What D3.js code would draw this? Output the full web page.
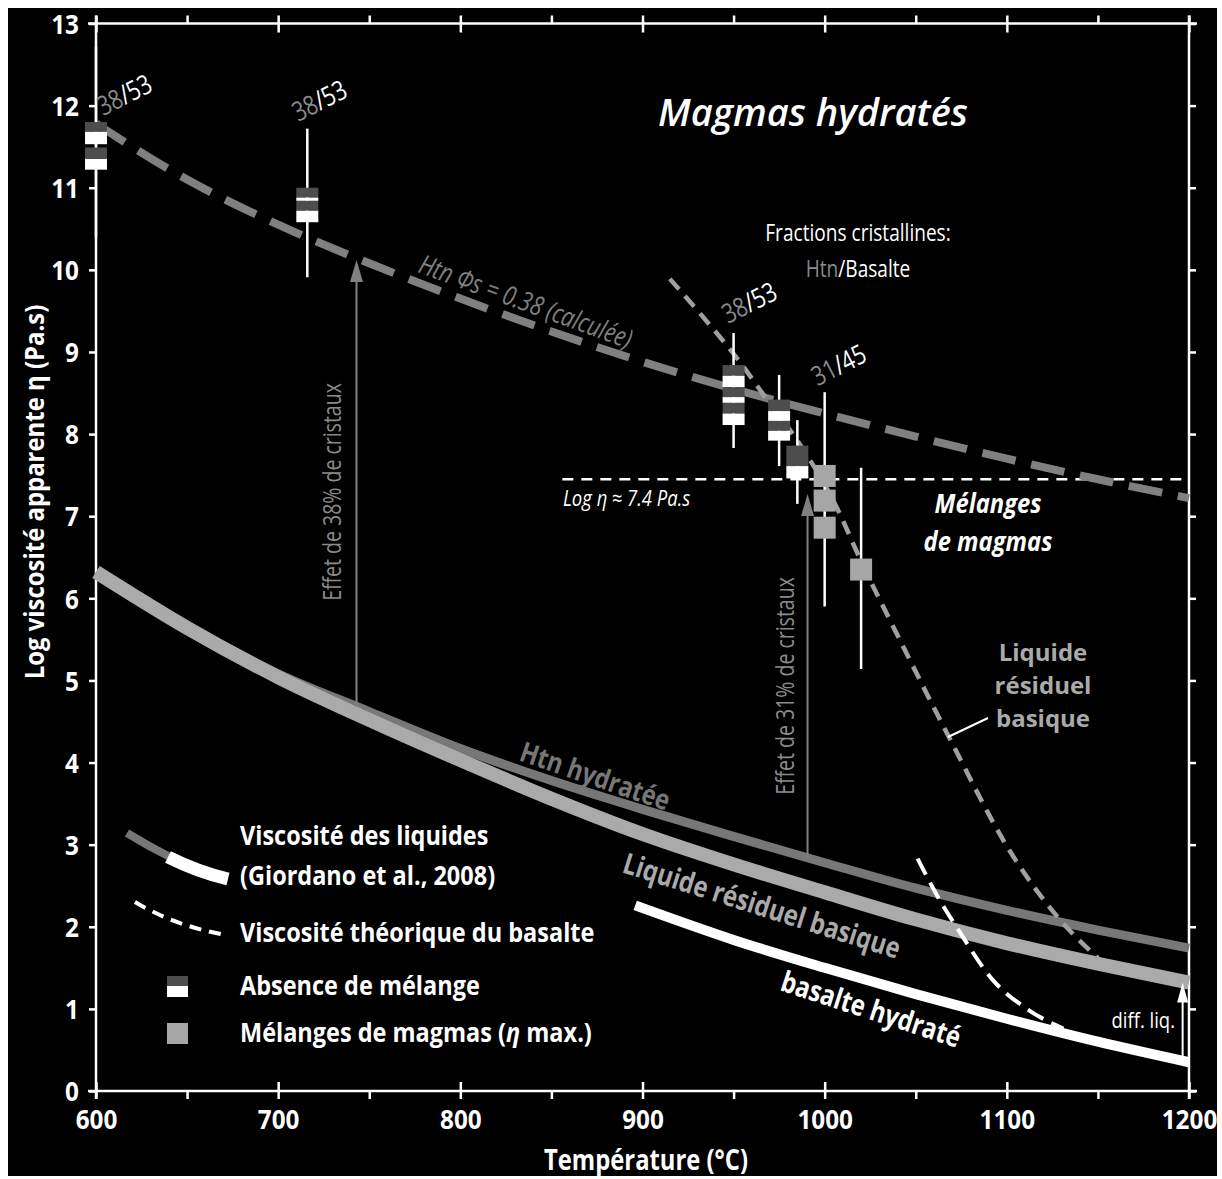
<!DOCTYPE html>
<html><head><meta charset="utf-8">
<script src="https://cdn.jsdelivr.net/npm/d3@7"></script>
<style>html,body{margin:0;padding:0;background:#fff;} svg{display:block;}</style>
</head><body>
<script>
// ---------------- DATA ----------------
const xMajorTicks = [600, 700, 800, 900, 1000, 1100, 1200];
const xMinorTicks = [650, 750, 850, 950, 1050, 1150];
const yTicks = [0, 1, 2, 3, 4, 5, 6, 7, 8, 9, 10, 11, 12, 13];

// liquid viscosity curves (Giordano et al., 2008)
const liqT = [600, 650, 700, 750, 800, 850, 900, 950, 1000, 1050, 1100, 1150, 1200];
const htnHydratee = [6.32, 5.66, 5.08, 4.62, 4.17, 3.78, 3.43, 3.10, 2.78, 2.47, 2.20, 1.96, 1.74];
const liqResiduel = [6.32, 5.64, 5.04, 4.52, 4.03, 3.56, 3.13, 2.76, 2.42, 2.09, 1.80, 1.55, 1.32];
const basT = [896, 950, 1000, 1050, 1100, 1150, 1200];
const basHydrate = [2.26, 1.84, 1.50, 1.18, 0.88, 0.60, 0.35];

// calculated Htn with 38% crystals
const htnCalc = [11.78, 11.10, 10.55, 10.08, 9.65, 9.25, 8.88, 8.55, 8.25, 7.97, 7.70, 7.45, 7.22];

// theoretical viscosities
const basTheoT = [1051, 1062, 1074, 1092, 1111, 1131];
const basTheo = [2.83, 2.37, 1.94, 1.36, 1.00, 0.76];
const resTheoT = [915, 935, 952, 968, 985, 1007, 1020, 1040, 1068, 1102, 1129, 1150];
const resTheo = [9.89, 9.38, 8.92, 8.43, 7.92, 7.09, 6.45, 5.55, 4.32, 2.91, 2.09, 1.62];

// threshold log eta ~ 7.4
const thresholdV = 7.45;
const thresholdT = [856, 1200];

// experiments without mixing (stripes: top, bottom, 0 = dark / 1 = white)
const absT = [600, 716, 950, 975, 985];
const absLow = [10.39, 9.91, 7.83, 7.61, 7.15];
const absHigh = [12.72, 11.72, 9.23, 8.72, 8.17];
const absStripes = [
  [[11.80, 11.68, 0], [11.68, 11.53, 1], [11.49, 11.35, 0], [11.35, 11.22, 1]],
  [[11.00, 10.88, 0], [10.88, 10.84, 1], [10.84, 10.72, 0], [10.72, 10.58, 1]],
  [[8.84, 8.71, 0], [8.71, 8.57, 1], [8.57, 8.45, 0], [8.45, 8.38, 1], [8.38, 8.25, 0], [8.25, 8.11, 1]],
  [[8.42, 8.28, 0], [8.28, 8.16, 1], [8.16, 8.04, 0], [8.04, 7.92, 1]],
  [[7.86, 7.61, 0], [7.61, 7.46, 1]]
];

// magma mixing experiments (eta max)
const mixT = [1000, 1000, 1000, 1020];
const mixV = [7.49, 7.19, 6.86, 6.35];
const mixWhiskerT = [1000, 1020];
const mixLow = [5.90, 5.14];
const mixHigh = [8.51, 7.59];

// crystal fractions Htn/Basalte
const fracT = [604, 711, 947, 996];
const fracV = [11.87, 11.80, 9.34, 8.58];
const fracHtn = ['38', '38', '38', '31'];
const fracBas = ['/53', '/53', '/53', '/45'];

// arrows
const arrowT = [743, 990.6, 1196.5];
const arrowFrom = [4.68, 2.84, 0.37];
const arrowTo = [10.12, 7.27, 1.32];

// ---------------- DRAWING ----------------
const W = 1222, H = 1179;
const FONT = "'Open Sans', 'Noto Sans', sans-serif";
const C_DARK = '#777777', C_LIGHT = '#aaaaaa', C_CALC = '#808080', C_BOX = '#4d4d4d', C_MIX = '#a6a6a6', C_TXTG = '#8a8a8a';

const svg = d3.select('body').append('svg').attr('width', W).attr('height', H);
svg.append('rect').attr('width', W).attr('height', H).attr('fill', '#fff');
svg.append('rect').attr('x', 8).attr('y', 8).attr('width', 1209).attr('height', 1168).attr('fill', '#000');

const x = d3.scaleLinear().domain([600, 1200]).range([96, 1189]);
const y = d3.scaleLinear().domain([0, 13]).range([1091, 23.5]);

// text helper: lines = array of lines, each line = string or array of [text, colour, style]
function txt(parent, px, py, lines, o = {}) {
  const g = parent.append('g').attr('transform', `translate(${px},${py}) rotate(${o.rot || 0}) scale(${o.sx || 0.88},1)`);
  const t = g.append('text').attr('text-anchor', o.anchor || 'start')
    .attr('font-family', FONT).attr('font-size', o.size || 24)
    .attr('font-weight', o.weight || 400).attr('font-style', o.style || 'normal')
    .attr('fill', o.fill || '#fff');
  if (!Array.isArray(lines) || !Array.isArray(lines[0]) && typeof lines[0] === 'string' && !o.multi) lines = [lines];
  lines.forEach((ln, li) => {
    const parts = typeof ln === 'string' ? [[ln, o.fill || '#fff']] : ln;
    parts.forEach((p, pi) => {
      const ts = t.append('tspan').attr('fill', p[1]).attr('font-style', p[2] || null).text(p[0]);
      if (pi === 0 && li > 0) ts.attr('x', 0).attr('dy', o.lineH || 30);
    });
  });
  return t;
}

// ---- axes ----
const axisColor = '#fff', axisW = 2.5;
function styleAxis(g) {
  g.select('.domain').remove();
  g.attr('font-size', 27).attr('font-family', FONT);
  g.selectAll('.tick line').attr('stroke', axisColor).attr('stroke-width', axisW);
  g.selectAll('.tick text').attr('fill', '#fff').attr('font-family', FONT).attr('font-weight', 700).attr('font-size', 27);
}
const xAll = xMajorTicks.concat(xMinorTicks).sort((a, b) => a - b);
const gB = svg.append('g').attr('transform', `translate(0,${y(0)})`)
  .call(d3.axisBottom(x).tickValues(xAll).tickSize(8).tickFormat(d => xMajorTicks.includes(d) ? d : ''));
styleAxis(gB);
gB.selectAll('.tick line').attr('y1', d => xMajorTicks.includes(d) ? -9 : 0);
gB.selectAll('.tick text').attr('y', 38).attr('dy', null).attr('transform', 'scale(0.9,1)');

const gT = svg.append('g').attr('transform', `translate(0,${y(13)})`)
  .call(d3.axisTop(x).tickValues(xAll).tickSize(8).tickFormat(''));
styleAxis(gT);
gT.selectAll('.tick line').attr('y1', d => xMajorTicks.includes(d) ? 9 : 0);

const gL = svg.append('g').attr('transform', `translate(${x(600)},0)`)
  .call(d3.axisLeft(y).tickValues(yTicks).tickSize(7).tickFormat(d3.format('d')));
styleAxis(gL);
gL.selectAll('.tick text').attr('x', -19).attr('dy', '0.36em').attr('transform', 'scale(0.9,1)');

const gR = svg.append('g').attr('transform', `translate(${x(1200)},0)`)
  .call(d3.axisRight(y).tickValues(yTicks).tickSize(7).tickFormat(''));
styleAxis(gR);

// frame
const ext = 8;
const frame = svg.append('g').attr('stroke', axisColor).attr('stroke-width', axisW);
frame.append('line').attr('x1', x(600) - ext).attr('x2', x(1200) + ext).attr('y1', y(0)).attr('y2', y(0));
frame.append('line').attr('x1', x(600) - ext).attr('x2', x(1200) + ext).attr('y1', y(13)).attr('y2', y(13));
frame.append('line').attr('x1', x(600)).attr('x2', x(600)).attr('y1', y(13) - ext).attr('y2', y(0) + ext);
frame.append('line').attr('x1', x(1200)).attr('x2', x(1200)).attr('y1', y(13) - ext).attr('y2', y(0) + ext);

// axis titles
txt(svg, 646, 1170, 'Température (°C)', { anchor: 'middle', size: 28, weight: 700, sx: 0.85 });
txt(svg, 44, 492, 'Log viscosité apparente η (Pa.s)', { anchor: 'middle', size: 26, weight: 700, rot: -90, sx: 0.92 });

// ---- curves ----
const line = (T, V) => d3.line().curve(d3.curveMonotoneX).x(d => x(d[0])).y(d => y(d[1]))(T.map((t, i) => [t, V[i]]));
const plot = svg.append('g').attr('fill', 'none');

// threshold
plot.append('path').attr('d', line(thresholdT, [thresholdV, thresholdV]))
  .attr('stroke', '#fff').attr('stroke-width', 2.5).attr('stroke-dasharray', '11 8');

// calculated Htn (38% crystals)
plot.append('path').attr('d', line(liqT, htnCalc))
  .attr('stroke', C_CALC).attr('stroke-width', 8).attr('stroke-dasharray', '34 16');

// Htn hydratée + liquide résiduel + basalte
plot.append('path').attr('d', line(liqT, htnHydratee)).attr('stroke', C_DARK).attr('stroke-width', 9);
plot.append('path').attr('d', line(liqT, liqResiduel)).attr('stroke', C_LIGHT).attr('stroke-width', 14);
plot.append('path').attr('d', line(basT, basHydrate)).attr('stroke', '#fff').attr('stroke-width', 10);

// theoretical curves
plot.append('path').attr('d', line(resTheoT, resTheo))
  .attr('stroke', '#a0a0a0').attr('stroke-width', 4.5).attr('stroke-dasharray', '14 9');
plot.append('path').attr('d', line(basTheoT, basTheo))
  .attr('stroke', '#fff').attr('stroke-width', 4).attr('stroke-dasharray', '18 9');

// arrows
const arrowCol = [C_CALC, C_CALC, '#fff'];
arrowT.forEach((t, i) => {
  const ax = x(t), y0 = y(arrowFrom[i]), y1 = y(arrowTo[i]);
  const hl = i === 2 ? 20 : 22, hw = i === 2 ? 5.5 : 6.5;
  svg.append('line').attr('x1', ax).attr('x2', ax).attr('y1', y0).attr('y2', y1 + hl - 2)
    .attr('stroke', arrowCol[i]).attr('stroke-width', 2);
  svg.append('path').attr('d', `M${ax},${y1} L${ax - hw},${y1 + hl} L${ax + hw},${y1 + hl} Z`).attr('fill', arrowCol[i]);
});

// whiskers + boxes
const BW = 22;
const marks = svg.append('g');
absT.forEach((t, i) => {
  marks.append('line').attr('x1', x(t)).attr('x2', x(t)).attr('y1', y(absLow[i])).attr('y2', y(absHigh[i]))
    .attr('stroke', '#fff').attr('stroke-width', 2.5);
});
mixWhiskerT.forEach((t, i) => {
  marks.append('line').attr('x1', x(t)).attr('x2', x(t)).attr('y1', y(mixLow[i])).attr('y2', y(mixHigh[i]))
    .attr('stroke', '#fff').attr('stroke-width', 2.5);
});
absT.forEach((t, i) => {
  absStripes[i].forEach(s => {
    marks.append('rect').attr('x', x(t) - BW / 2).attr('width', BW)
      .attr('y', y(s[0])).attr('height', y(s[1]) - y(s[0]))
      .attr('fill', s[2] ? '#fff' : C_BOX);
  });
});
mixT.forEach((t, i) => {
  marks.append('rect').attr('x', x(t) - BW / 2).attr('width', BW)
    .attr('y', y(mixV[i]) - 11).attr('height', 22).attr('fill', C_MIX);
});

// crystal fraction labels
fracT.forEach((t, i) => {
  txt(svg, x(t), y(fracV[i]), [[[fracHtn[i], C_TXTG], [fracBas[i], '#fff']]], { rot: -27, size: 27, sx: 0.8 });
});

// ---- annotations ----
txt(svg, 813, 126, 'Magmas hydratés', { anchor: 'middle', size: 38, style: 'italic', weight: 600, sx: 1.0 });
txt(svg, 858, 241, 'Fractions cristallines:', { anchor: 'middle', size: 23, sx: 0.83 });
txt(svg, 858, 277, [[['Htn', C_TXTG], ['/Basalte', '#fff']]], { anchor: 'middle', size: 23, sx: 0.83 });

txt(svg, 417, 272, 'Htn Φs = 0.38 (calculée)', { rot: 20, size: 27, style: 'italic', sx: 0.8, fill: C_CALC });
txt(svg, 341, 492, 'Effet de 38% de cristaux', { anchor: 'middle', rot: -90, size: 25, sx: 0.78, fill: C_TXTG });
txt(svg, 794, 686, 'Effet de 31% de cristaux', { anchor: 'middle', rot: -90, size: 25, sx: 0.78, fill: C_TXTG });

txt(svg, 563, 506, 'Log η ≈ 7.4 Pa.s', { size: 22, style: 'italic', sx: 0.84 });

txt(svg, 988, 513, ['Mélanges', 'de magmas'], { multi: true, lineH: 38, anchor: 'middle', size: 27, weight: 700, style: 'italic', sx: 0.88 });
txt(svg, 1043, 661, ['Liquide', 'résiduel', 'basique'], { multi: true, lineH: 33, anchor: 'middle', size: 24, weight: 700, fill: C_LIGHT, sx: 1.0 });
svg.append('line').attr('x1', 948).attr('y1', 737).attr('x2', 988).attr('y2', 718).attr('stroke', '#fff').attr('stroke-width', 2);

txt(svg, 518, 760, 'Htn hydratée', { rot: 19, size: 28, weight: 700, fill: C_DARK, sx: 0.84 });
txt(svg, 621, 872, 'Liquide résiduel basique', { rot: 17.5, size: 29, weight: 700, fill: C_LIGHT, sx: 0.82 });
txt(svg, 779, 990, 'basalte hydraté', { rot: 18, size: 29, weight: 700, sx: 0.82 });
txt(svg, 1175, 1028, 'diff. liq.', { anchor: 'end', size: 22, sx: 0.84 });

// ---- legend ----
const lg = svg.append('g');
lg.append('path').attr('d', 'M127,833 Q148,846 170,857').attr('fill', 'none').attr('stroke', C_DARK).attr('stroke-width', 8);
lg.append('path').attr('d', 'M168,857 Q198,872 228,879').attr('fill', 'none').attr('stroke', '#fff').attr('stroke-width', 13);
lg.append('path').attr('d', 'M135,902 Q175,926 226,935').attr('fill', 'none').attr('stroke', '#fff').attr('stroke-width', 4).attr('stroke-dasharray', '12 8');
lg.append('rect').attr('x', 167).attr('y', 976).attr('width', 21).attr('height', 10).attr('fill', C_BOX);
lg.append('rect').attr('x', 167).attr('y', 986).attr('width', 21).attr('height', 11).attr('fill', '#fff');
lg.append('rect').attr('x', 167).attr('y', 1023).attr('width', 21).attr('height', 21).attr('fill', C_MIX);
const LS = { size: 27, weight: 700, sx: 0.87 };
txt(lg, 240, 845, 'Viscosité des liquides', LS);
txt(lg, 240, 885, '(Giordano et al., 2008)', LS);
txt(lg, 240, 942, 'Viscosité théorique du basalte', LS);
txt(lg, 240, 995, 'Absence de mélange', LS);
txt(lg, 240, 1042, [[['Mélanges de magmas (', '#fff'], ['η', '#fff', 'italic'], [' max.)', '#fff']]], LS);
</script>
</body></html>
